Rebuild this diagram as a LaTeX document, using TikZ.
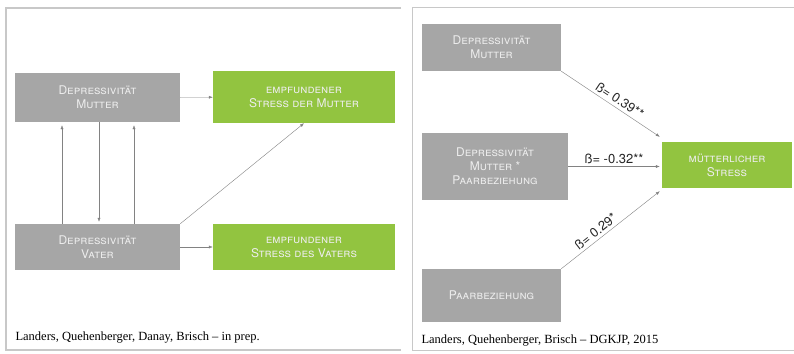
\documentclass[tikz,border=0pt]{standalone}
\usepackage{fontspec}
\setmainfont{Liberation Serif}
\setsansfont{TeX Gyre Heros}
\usetikzlibrary{arrows.meta,positioning}
\definecolor{boxgrey}{RGB}{166,166,166}
\definecolor{boxgreen}{RGB}{146,196,64}
\definecolor{linegrey}{RGB}{130,130,130}
\definecolor{framegrey}{RGB}{200,200,200}
\begin{document}
\begin{tikzpicture}[x=1pt, y=-1pt,
   box/.style = {inner sep=0pt, align=center, text=white!93!black,
                 font=\sffamily\scshape\fontsize{12}{14}\selectfont},
   greybox/.style = {box, fill=boxgrey},
   greenbox/.style = {box, fill=boxgreen},
   beta/.style = {font=\sffamily\fontsize{13}{15}\selectfont, text=black!85, inner sep=1pt},
   arr/.style = {draw=linegrey, -{Latex[length=4pt,width=3pt]}}]
   \useasboundingbox (0,0) rectangle (794,353);
   \fill[white] (0,0) rectangle (794,353);
   % frames of the two slides
   \draw[framegrey, line width=1.2pt] (401,8) -- (6,8) -- (6,350) -- (401,350);
   \draw[framegrey, line width=1pt] (794,8) -- (412,8) -- (412,350) -- (794,350);
   % left slide
   \node[greybox, minimum width=165pt, minimum height=49pt] (DM) at (97.5,97.5) {Depressivität\\Mutter};
   \node[greenbox, minimum width=182pt, minimum height=52pt] (SM) at (304,97) {empfundener\\Stress der Mutter};
   \node[greybox, minimum width=165pt, minimum height=46pt] (DV) at (97.5,247) {Depressivität\\Vater};
   \node[greenbox, minimum width=182pt, minimum height=46pt] (SV) at (304,247) {empfundener\\Stress des Vaters};
   \draw[arr] (DM) -- (SM);
   \draw[arr] (DV) -- (SV);
   \draw[arr] (DV.north east) -- (SM.south);
   \draw[arr] ([xshift=-35.5pt]DV.north) -- ([xshift=-35.5pt,yshift=-3pt]DM.south);
   \draw[arr] ([xshift=1.5pt]DM.south) -- ([xshift=1.5pt,yshift=2pt]DV.north);
   \draw[arr] ([xshift=36.5pt]DV.north) -- ([xshift=36.5pt,yshift=-3pt]DM.south);
   \node[anchor=base west, font=\rmfamily\fontsize{12.5}{14}\selectfont] (refL) at (12,340) {Landers, Quehenberger, Danay, Brisch -- in prep.};
   % right slide
   \node[greybox, minimum width=139pt, minimum height=47pt] (RDM) at (491.5,47.5) {Depressivität\\Mutter};
   \node[greybox, minimum width=146pt, minimum height=67pt] (RDP) at (495,166.5) {Depressivität\\Mutter *\\Paarbeziehung};
   \node[greybox, minimum width=139pt, minimum height=53pt] (RP) at (491.5,295.5) {Paarbeziehung};
   \node[greenbox, minimum width=130pt, minimum height=46pt] (MS) at (727,165) {mütterlicher\\Stress};
   \draw[arr] (RDM.south east) -- node[beta, sloped, above=2pt, pos=0.55] {ß= 0.39**} ([xshift=-2pt,yshift=5pt]MS.north west);
   \draw[arr] (RDP.east) -- node[beta, above=2pt, pos=0.5] {ß= -0.32**} ([xshift=-2pt]MS.west |- RDP.east);
   \draw[arr] (RP.north east) -- node[beta, sloped, above=2pt, pos=0.4] {ß= 0.29*} ([xshift=-2pt,yshift=-3pt]MS.south west);
   \node[anchor=base west, font=\rmfamily\fontsize{12.5}{14}\selectfont] (refR) at (418,343) {Landers, Quehenberger, Brisch -- DGKJP, 2015};
\end{tikzpicture}
\end{document}
